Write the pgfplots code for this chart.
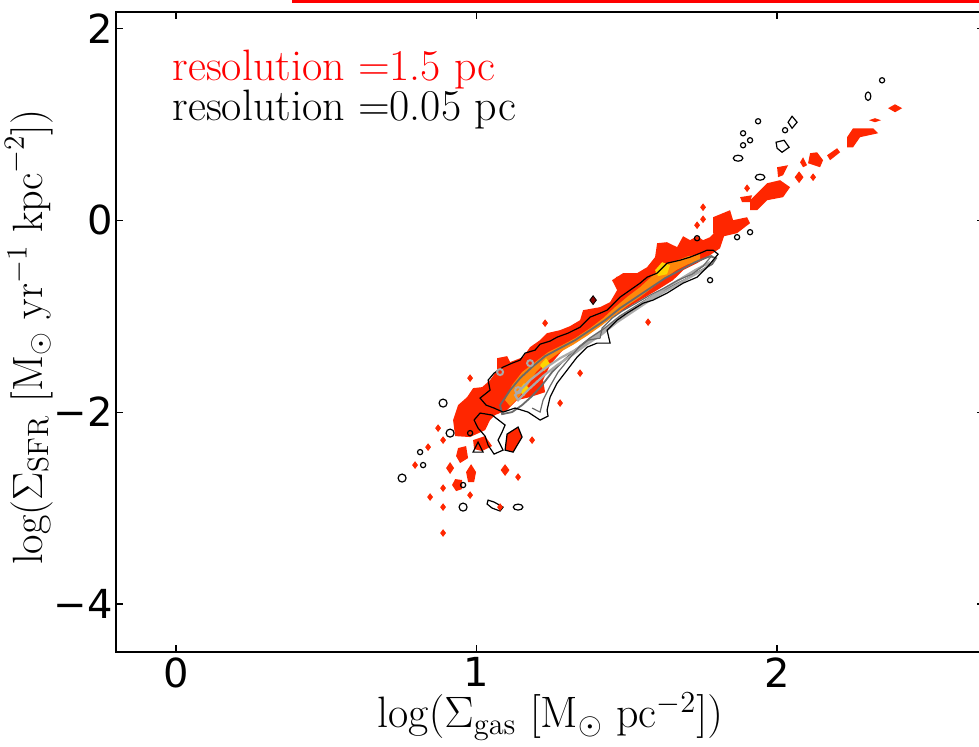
\documentclass[border=0pt]{standalone}
\usepackage{graphicx}
\usepackage{pgfplots}
\pgfplotsset{compat=1.18}
\usepackage{fontspec}
\newfontfamily\dejavu{DejaVu Sans}
\definecolor{cred}{RGB}{255,38,0}
\definecolor{tred}{RGB}{255,0,0}
\definecolor{corange}{RGB}{255,135,10}
\definecolor{cyellow}{RGB}{255,212,0}
\definecolor{gdark}{RGB}{105,105,105}
\definecolor{glight}{RGB}{170,170,170}
\newcommand{\lbl}{\fontsize{22}{26}\selectfont}
\begin{document}
\begin{tikzpicture}
\begin{axis}[
  scale only axis,
  width=434.2pt, height=320pt,
  xmin=-0.2, xmax=2.69, ymin=-4.5, ymax=2.17,
  xtick={0,1,2}, xticklabels={0,1,2},
  ytick={-4,-2,0,2}, yticklabels={−4,−2,0,2},
  tick align=inside, major tick length=3.5pt,
  minor tick num=0,
  ticklabel style={font=\dejavu\fontsize{20}{24}\selectfont, text=black, inner sep=0pt},
  xticklabel style={yshift=-2.5pt},
  yticklabel style={xshift=-1.5pt},
  axis line style={line width=0.75pt},
  every tick/.style={black, line width=0.6pt},
  xlabel={\scalebox{1.06}{\huge$\log(\Sigma_{\mathrm{gas}}\ [\mathrm{M}_\odot\ \mathrm{pc}^{-2}])$}},
  ylabel={\scalebox{1.02}{\huge$\log(\Sigma_{\mathrm{SFR}}\ [\mathrm{M}_\odot\ \mathrm{yr}^{-1}\ \mathrm{kpc}^{-2}])$}},
  xlabel style={at={(axis description cs:0.5,-0.11875)}, anchor=base},
  ylabel style={at={(axis description cs:-0.0852,0.492)}, anchor=base},
  clip=false,
]
% stray red line at the top (remnant of the neighbouring panel)
\addplot[tred, line width=1.5pt] coordinates {(0.386,2.281) (2.75,2.281)};

% ---- 1.5 pc resolution: filled contours ----
\addplot[fill=cred, draw=none] coordinates {
(0.9285,-2.25) (0.9218,-2.083) (0.9384,-1.927) (0.9684,-1.844) (0.9884,-1.75) (1.0183,-1.740) (1.0449,-1.667) (1.0682,-1.5625) (1.0682,-1.4375) (1.1015,-1.417) (1.1115,-1.479) (1.1547,-1.427) (1.1780,-1.323) (1.2113,-1.25) (1.2346,-1.177) (1.2779,-1.146) (1.3111,-1.104) (1.3444,-1.042) (1.3544,-0.9375) (1.4110,-0.906) (1.4443,-0.854) (1.4676,-0.729) (1.4509,-0.625) (1.4875,-0.552) (1.5341,-0.552) (1.5674,-0.490) (1.5940,-0.385) (1.6007,-0.240) (1.6339,-0.229) (1.6672,-0.281) (1.6872,-0.167) (1.7105,-0.208) (1.7338,-0.167) (1.7537,-0.208) (1.7770,-0.177) (1.8003,-0.104) (1.8236,-0.167) (1.8103,-0.292) (1.7671,-0.385) (1.7338,-0.448) (1.6872,-0.521) (1.6539,-0.625) (1.6007,-0.729) (1.5441,-0.833) (1.4875,-0.9375) (1.4343,-1.042) (1.3777,-1.146) (1.3211,-1.25) (1.2779,-1.385) (1.2446,-1.510) (1.2213,-1.667) (1.2280,-1.792) (1.1780,-1.844) (1.1348,-1.875) (1.1015,-1.979) (1.0616,-2.031) (1.0449,-2.083) (1.0283,-2.1875) (0.9784,-2.260)
} --cycle;
\addplot[fill=cred, draw=none] coordinates {(0.9884,-2.292) (1.0283,-2.25) (1.0516,-2.354) (1.0183,-2.406) (0.9917,-2.385)} --cycle;
\addplot[fill=cred, draw=black, line width=0.6pt] coordinates {(1.1015,-2.229) (1.1381,-2.156) (1.1514,-2.260) (1.1215,-2.417) (1.0948,-2.396)} --cycle;
\addplot[fill=cred, draw=none] coordinates {(0.9384,-2.375) (0.9651,-2.354) (0.9717,-2.479) (0.9451,-2.531) (0.9318,-2.458)} --cycle;
\addplot[fill=cred, draw=none] coordinates {(0.9118,-2.521) (0.9251,-2.583) (0.9118,-2.646) (0.8985,-2.583)} --cycle;
\addplot[fill=cred, draw=none] coordinates {(0.9817,-2.542) (0.9983,-2.625) (0.9917,-2.729) (0.9717,-2.729) (0.9651,-2.625)} --cycle;
\addplot[fill=cred, draw=none] coordinates {(0.9285,-2.698) (0.9517,-2.708) (0.9517,-2.802) (0.9318,-2.823) (0.9185,-2.760)} --cycle;
% upper-right patches
\addplot[fill=cred, draw=none] coordinates {(1.7870,0.031) (1.8436,0.104) (1.8536,0) (1.9002,0.031) (1.9101,-0.031) (1.8669,-0.135) (1.8103,-0.177) (1.7870,-0.135)} --cycle;
\addplot[fill=cred, draw=none] coordinates {(1.8769,0.240) (1.9168,0.260) (1.9101,0.188) (1.8835,0.188)} --cycle;
\addplot[fill=cred, draw=none] coordinates {(1.9101,0.208) (1.9667,0.385) (2.0100,0.417) (2.0433,0.344) (2.0200,0.240) (1.9667,0.208) (1.9334,0.104) (1.9101,0.104)} --cycle;
\addplot[fill=cred, draw=none] coordinates {(2.0000,0.552) (2.0366,0.573) (2.0200,0.469) (2.0033,0.448)} --cycle;
\addplot[fill=cred, draw=none] coordinates {(2.0765,0.604) (2.0865,0.656) (2.0998,0.573) (2.0865,0.552)} --cycle;
\addplot[fill=cred, draw=none] coordinates {(2.1098,0.698) (2.1331,0.708) (2.1531,0.625) (2.1431,0.552) (2.1032,0.594)} --cycle;
\addplot[fill=cred, draw=none] coordinates {(2.1664,0.677) (2.1997,0.750) (2.2097,0.708) (2.1764,0.625)} --cycle;
\addplot[fill=cred, draw=none] coordinates {(2.2329,0.865) (2.2529,0.958) (2.3195,0.958) (2.3361,0.906) (2.2762,0.865) (2.2529,0.760) (2.2329,0.760)} --cycle;
\addplot[fill=cred, draw=none] coordinates {(2.3062,1.042) (2.3261,1.063) (2.3461,1.042) (2.3261,1.021)} --cycle;
\addplot[fill=cred, draw=none] coordinates {(2.3694,1.167) (2.3927,1.208) (2.4160,1.167) (2.3927,1.125)} --cycle;
% orange and yellow inner levels
\addplot[fill=corange, draw=none] coordinates {
(1.0948,-1.875) (1.1181,-1.719) (1.1514,-1.583) (1.1947,-1.479) (1.2379,-1.375) (1.2845,-1.302) (1.3278,-1.229) (1.3777,-1.125) (1.4210,-1.021) (1.4609,-0.906) (1.5042,-0.792) (1.5441,-0.698) (1.5840,-0.583) (1.6173,-0.479) (1.6606,-0.427) (1.7038,-0.375) (1.7438,-0.354) (1.7438,-0.417) (1.7038,-0.458) (1.6639,-0.521) (1.6273,-0.604) (1.5874,-0.698) (1.5441,-0.802) (1.5042,-0.885) (1.4609,-0.990) (1.4176,-1.094) (1.3710,-1.198) (1.3245,-1.292) (1.2779,-1.375) (1.2313,-1.479) (1.1980,-1.583) (1.1714,-1.719) (1.1381,-1.854) (1.1115,-1.9375)
} --cycle;
\addplot[fill=cyellow, draw=none] coordinates {(1.5940,-0.521) (1.6173,-0.4375) (1.6439,-0.469) (1.6339,-0.563) (1.6040,-0.583)} --cycle;
\addplot[fill=cyellow, draw=none] coordinates {(1.1414,-1.771) (1.1581,-1.698) (1.1747,-1.75) (1.1581,-1.833)} --cycle;
\addplot[fill=cyellow, draw=none] coordinates {(1.2113,-1.510) (1.2313,-1.4375) (1.2446,-1.5) (1.2246,-1.573)} --cycle;
% small red islands
\addplot[only marks, mark=diamond*, mark size=1.6pt, cred] coordinates {
(0.8719,-2.167) (0.8386,-2.365) (0.7953,-2.552) (0.8885,-2.792) (0.8453,-2.885) (0.8885,-2.990) (0.9784,-2.865) (1.1381,-2.677) (1.1847,-2.292) (0.9784,-1.646) (0.8885,-2.292) (1.0782,-2.990) (0.8885,-3.260) (1.2779,-1.906) (1.3444,-1.594) (1.2280,-1.073) (1.5707,-1.0625) (1.4676,-0.625) (1.7537,0.135) (1.7537,0.010) (1.7338,-0.052) (1.9002,0.333) (2.1198,0.448)};
\addplot[only marks, mark=diamond*, mark size=2.6pt, cred] coordinates {(1.0948,-2.604) (2.0732,0.448)};
\addplot[only marks, mark=diamond*, mark size=2.2pt, mark options={fill=red!55!black, draw=black, line width=0.4pt}] coordinates {(1.3877,-0.833)};

% ---- 0.05 pc resolution: contour lines ----
\addplot[draw=gdark, line width=0.9pt] coordinates {
(1.0782,-1.927) (1.1115,-1.771) (1.1448,-1.646) (1.1847,-1.531) (1.2280,-1.417) (1.2779,-1.333) (1.3278,-1.25) (1.3777,-1.146) (1.4276,-1.042) (1.4775,-0.917) (1.5275,-0.8125) (1.5774,-0.708) (1.6273,-0.604) (1.6772,-0.521) (1.7271,-0.4375) (1.7770,-0.375) (1.7970,-0.396) (1.7837,-0.458) (1.7371,-0.542) (1.6905,-0.625) (1.6373,-0.708) (1.5840,-0.792) (1.5308,-0.896) (1.4775,-1.0) (1.4276,-1.125) (1.3777,-1.229) (1.3278,-1.354) (1.2845,-1.479) (1.2512,-1.583) (1.2180,-1.719) (1.1847,-1.833) (1.1514,-1.927) (1.1181,-2.0) (1.0849,-2.021)
} --cycle;
\addplot[draw=glight, line width=1.1pt] coordinates {
(1.1281,-1.823) (1.1780,-1.667) (1.2280,-1.542) (1.2779,-1.4375) (1.3278,-1.354) (1.3777,-1.25) (1.4276,-1.146) (1.4775,-1.021) (1.5275,-0.917) (1.5774,-0.8125) (1.6273,-0.708) (1.6772,-0.615) (1.7271,-0.521) (1.7704,-0.448) (1.7637,-0.5) (1.7171,-0.583) (1.6705,-0.667) (1.6173,-0.760) (1.5674,-0.854) (1.5175,-0.958) (1.4676,-1.0625) (1.4176,-1.1875) (1.3677,-1.292) (1.3178,-1.406) (1.2679,-1.510) (1.2213,-1.625) (1.1780,-1.75) (1.1381,-1.875)
} --cycle;
\addplot[only marks, mark=o, mark size=1.5pt, mark options={draw=glight, line width=1pt}] coordinates {(1.0782,-1.583) (1.1381,-1.771) (1.1780,-1.490)};
\addplot[draw=gdark, line width=0.6pt] coordinates {
(1.7837,-0.365) (1.7537,-0.479) (1.7171,-0.5625) (1.6705,-0.625) (1.6240,-0.708) (1.5774,-0.781) (1.5308,-0.865) (1.4842,-0.948) (1.4509,-1.021) (1.4176,-1.125) (1.4110,-1.229) (1.3710,-1.25) (1.3378,-1.333) (1.3045,-1.458) (1.2712,-1.583) (1.2446,-1.729) (1.2213,-1.875) (1.2113,-2.0) (1.1847,-1.958)};
\addplot[draw=black, line width=0.6pt] coordinates {
(1.0116,-1.854) (1.0449,-1.771) (1.0383,-1.667) (1.0582,-1.594) (1.0882,-1.531) (1.1181,-1.490) (1.1448,-1.458) (1.1614,-1.385) (1.1947,-1.354) (1.2113,-1.292) (1.2446,-1.260) (1.2679,-1.219) (1.3045,-1.177) (1.3444,-1.115) (1.3777,-1.010) (1.4110,-0.969) (1.4343,-0.9375) (1.4775,-0.802) (1.5108,-0.729) (1.5441,-0.656) (1.5674,-0.594) (1.6007,-0.552) (1.6339,-0.448) (1.6772,-0.417) (1.7105,-0.385) (1.7438,-0.344) (1.7671,-0.3125) (1.7870,-0.3125) (1.8037,-0.354) (1.7870,-0.417) (1.7671,-0.490) (1.7338,-0.594) (1.6872,-0.656) (1.6339,-0.760) (1.5874,-0.833) (1.5541,-0.865) (1.5008,-0.969) (1.4676,-1.042) (1.4343,-1.146) (1.4443,-1.281) (1.4010,-1.281) (1.3677,-1.323) (1.3344,-1.427) (1.3012,-1.5625) (1.2679,-1.698) (1.2446,-1.844) (1.2346,-1.979) (1.2379,-2.042) (1.2113,-2.083) (1.1714,-2.0) (1.1281,-1.958) (1.0882,-2.0) (1.0582,-1.958) (1.0316,-1.927)
} --cycle;
\addplot[draw=black, line width=0.6pt] coordinates {(1.0116,-2.010) (1.0516,-2.031) (1.0948,-2.135) (1.0849,-2.208) (1.0715,-2.292) (1.0882,-2.396) (1.0582,-2.4375) (1.0383,-2.344) (1.0283,-2.25) (1.0050,-2.167) (0.9917,-2.083)} --cycle;
\addplot[draw=black, line width=0.6pt] coordinates {(0.9884,-2.417) (1.0050,-2.3125) (1.0216,-2.417)} --cycle;
\addplot[draw=black, line width=0.6pt] coordinates {(1.0383,-2.917) (1.0582,-2.9375) (1.0882,-2.990) (1.0782,-3.031) (1.0516,-3.0) (1.0349,-2.958)} --cycle;
\addplot[draw=black, line width=0.6pt] coordinates {(2.0366,1.021) (2.0499,1.083) (2.0666,1.021) (2.0499,0.958)} --cycle;
\addplot[draw=black, line width=0.6pt] coordinates {(1.9967,0.8125) (2.0233,0.833) (2.0399,0.760) (2.0166,0.708) (2.0000,0.750)} --cycle;
\addplot[only marks, mark=o, mark size=2pt, mark options={draw=black, line width=0.6pt}] coordinates {(0.8885,-1.906) (0.9118,-2.219) (0.7521,-2.6875) (0.9551,-2.990)};
\addplot[only marks, mark=o, mark size=1.3pt, mark options={draw=black, line width=0.6pt}] coordinates {(0.8120,-2.417) (0.8220,-2.552) (0.9551,-2.760) (0.9784,-2.219) (2.0266,0.938) (1.9368,1.031) (1.8869,0.906) (1.9101,0.833) (1.8869,0.781) (1.7770,-0.625) (1.8669,-0.177) (1.9101,-0.125) (1.7338,-0.188) (2.3494,1.458)};
\addplot[only marks, mark=o, mark size=1.5pt, mark options={draw=black, line width=0.6pt, xscale=1.6}] coordinates {(1.1381,-2.990) (1.8702,0.646) (1.9434,0.448)};
\addplot[only marks, mark=o, mark size=1.4pt, mark options={draw=black, line width=0.6pt, yscale=1.5}] coordinates {(2.3028,1.292)};

\node[anchor=base west, inner sep=0pt, text=tred, font=\lbl] at (axis cs:-0.013,1.458) {resolution =1.5 pc};
\node[anchor=base west, inner sep=0pt, text=black, font=\lbl] at (axis cs:-0.013,1.042) {resolution =0.05 pc};
\end{axis}
\pgfresetboundingbox
\path[use as bounding box] (current axis.south west) ++(-58pt,-47.5pt) rectangle ++(489.5pt,373.5pt);
\end{tikzpicture}
\end{document}
